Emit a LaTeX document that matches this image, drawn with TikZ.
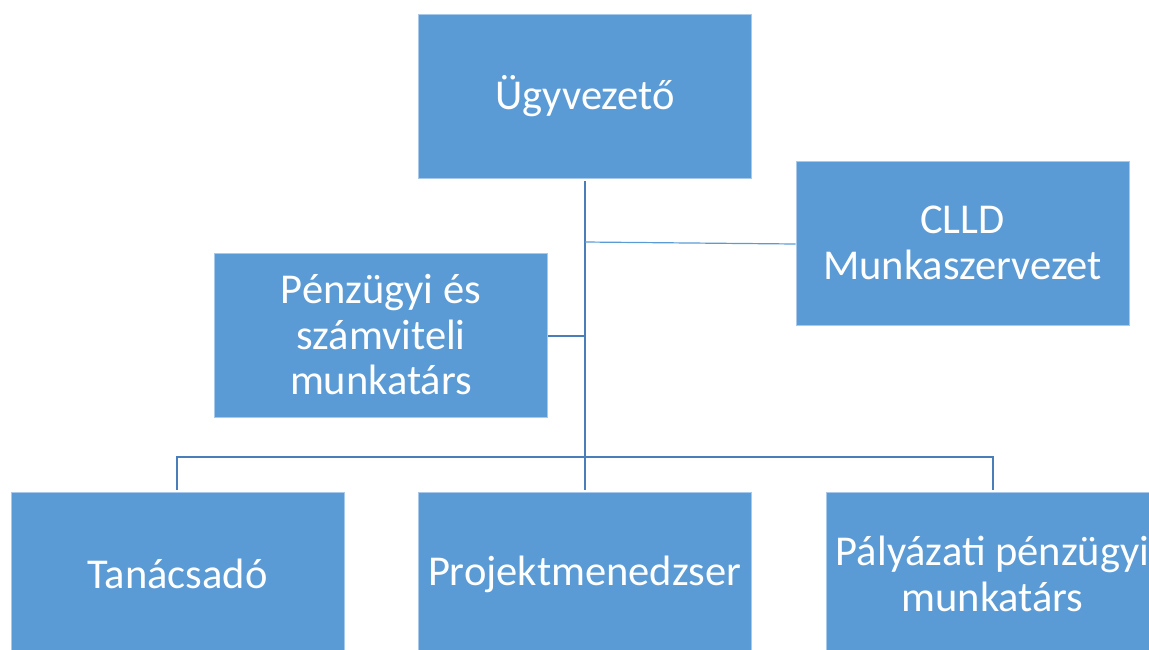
\documentclass[tikz,border=0pt]{standalone}
\usepackage{fontspec}
\setmainfont{Carlito}
\definecolor{boxfill}{HTML}{5B9BD5}
\definecolor{boxedge}{HTML}{A9C9EA}
\definecolor{linedark}{HTML}{4A7EBB}
\definecolor{linelight}{HTML}{5B9BD5}
\tikzset{
  orgbox/.style={fill=boxfill, draw=boxedge, line width=0.8pt, minimum width=333pt, minimum height=164pt,
    text=white, align=center, font=\fontsize{42.5}{45.5}\selectfont, inner sep=0pt},
  boxtext/.style={text=white, align=center, font=\fontsize{42.5}{45.5}\selectfont, inner sep=0pt},
  trunk/.style={draw=linedark, line width=2.8pt},
  thin/.style={draw=linelight, line width=1.2pt}
}
\begin{document}
\begin{tikzpicture}[x=1pt,y=-1pt]
\useasboundingbox (0,0) rectangle (1149,649);
\clip (0,0) rectangle (1149,649);
\node[orgbox] (ceo) at (585,96.5) {Ügyvezető};
\node[orgbox] (clld) at (962.5,243) {CLLD\\Munkaszervezet};
\node[orgbox] (fin) at (381,335) {Pénzügyi és\\számviteli\\munkatárs};
\node[orgbox] (tan) at (177.5,574.5) {};
\node[orgbox] (proj) at (584.5,574.5) {};
\node[orgbox] (pal) at (992.5,574.5) {};
\node[boxtext] (tant) at (177.5,574) {Tanácsadó};
\node[boxtext] (projt) at (584.5,574) {Projektmenedzser};
\node[boxtext] (palt) at (992.5,574) {Pályázati pénzügyi\\munkatárs};
\coordinate (top) at (585,181);
\coordinate (barL) at (177,457);
\coordinate (barR) at (993,457);
\coordinate (finJ) at (585,336);
\coordinate (clldJ) at (585,242);
\draw[trunk] (top) -- (585,490);
\draw[trunk] (177,490) -- (barL) -- (barR) -- (993,490);
\draw[trunk] (fin.east |- finJ) -- (finJ);
\draw[thin] (clldJ) -- (clld.west |- 0,244);
\end{tikzpicture}
\end{document}
